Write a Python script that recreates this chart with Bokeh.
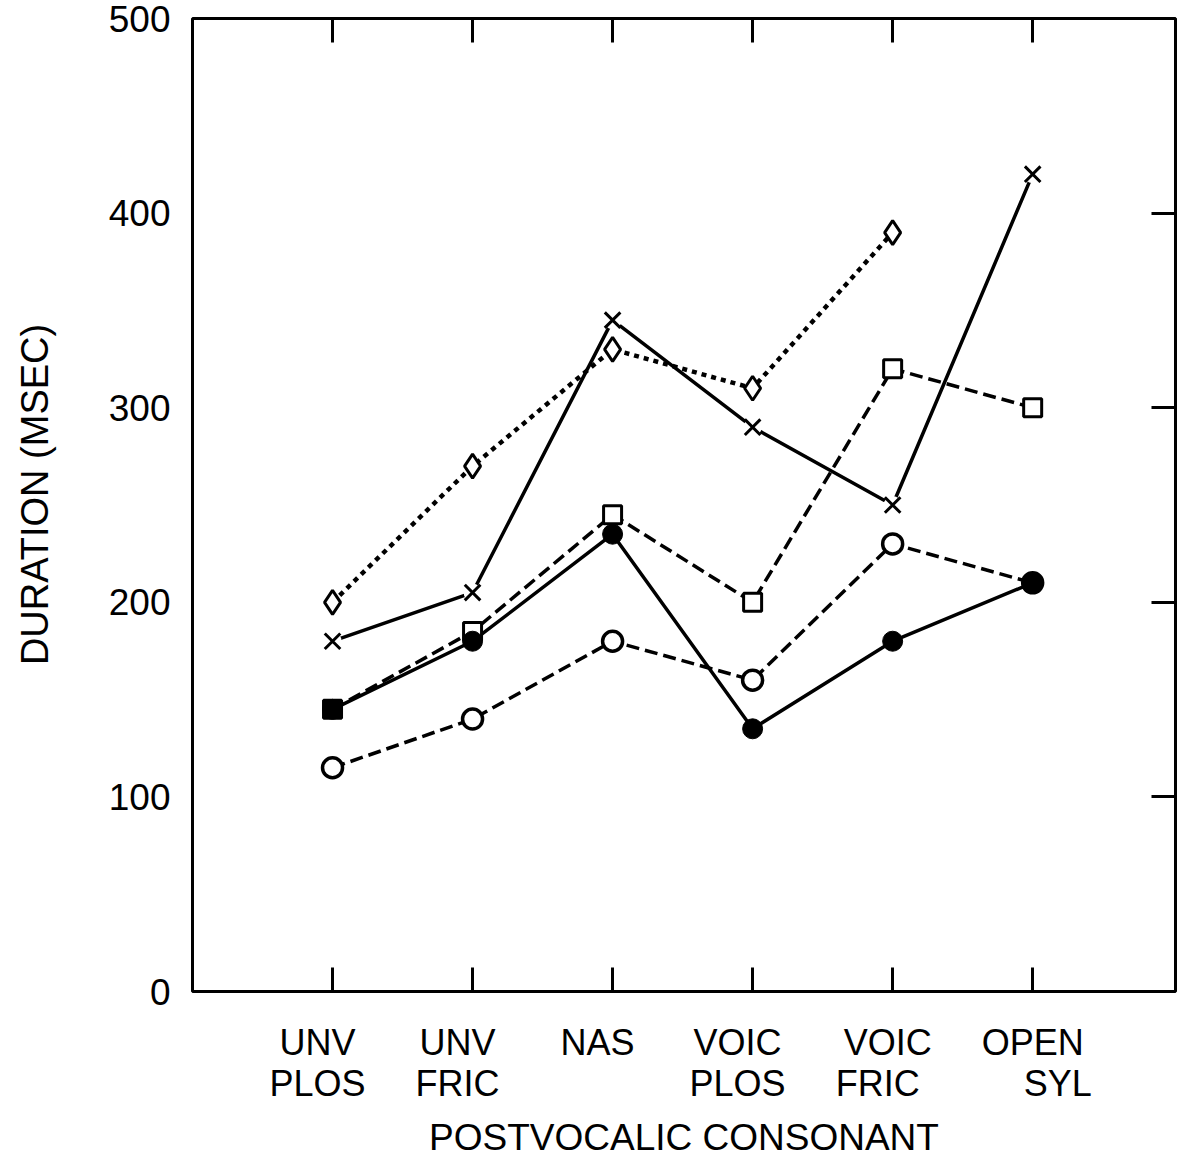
from bokeh.plotting import figure
from bokeh.models import Range1d, FixedTicker, LinearAxis
from bokeh.embed import file_html
from bokeh.resources import INLINE

# Vowel duration by following consonant type
NBSP = "\u00a0"
PAD = NBSP * 3
categories = ["UNV" + PAD + "\nPLOS" + PAD,
              "UNV" + PAD + "\nFRIC" + PAD,
              "NAS" + PAD,
              "VOIC" + PAD + "\nPLOS" + PAD,
              "VOIC" + NBSP + "\nFRIC" + PAD,
              "OPEN\n" + NBSP * 5 + "SYL"]
x_pos = [1, 2, 3, 4, 5, 6]
cross_vals = [180, 205, 345, 290, 250, 420]
diamond_vals = [200, 270, 330, 310, 390]
square_vals = [145, 185, 245, 200, 320, 300]
filled_circle_vals = [145, 180, 235, 135, 180, 210]
open_circle_vals = [115, 140, 180, 160, 230, 210]
y_ticks = [0, 100, 200, 300, 400, 500]

FONT = "'Liberation Sans', Arial, Helvetica, sans-serif"

p = figure(width=1178, height=1160,
           x_range=Range1d(0, 7.02), y_range=Range1d(0, 500),
           output_backend="svg", toolbar_location=None,
           min_border_left=192, min_border_right=3,
           min_border_top=18, min_border_bottom=167)
p.xgrid.visible = False
p.ygrid.visible = False
p.outline_line_color = "black"
p.outline_line_width = 3
p.outline_line_alpha = 1.0
p.background_fill_color = "white"
p.border_fill_color = "white"

# left axis: labels only
ya = p.yaxis[0]
ya.ticker = FixedTicker(ticks=y_ticks)
ya.major_tick_in = 0
ya.major_tick_out = 0
ya.minor_tick_line_color = None
ya.axis_line_color = None
ya.major_label_text_font = FONT
ya.major_label_text_font_size = "37px"
ya.major_label_text_color = "black"
ya.major_label_standoff = 22
ya.axis_label = NBSP * 2 + "DURATION (MSEC)"
ya.axis_label_text_font = FONT
ya.axis_label_text_font_size = "38px"
ya.axis_label_text_color = "black"
ya.axis_label_text_font_style = "normal"
ya.axis_label_standoff = 50

# bottom axis: category ticks pointing inward
xa = p.xaxis[0]
xa.ticker = FixedTicker(ticks=x_pos)
xa.major_label_overrides = {x: c for x, c in zip(x_pos, categories)}
xa.major_tick_in = 24
xa.major_tick_out = 0
xa.major_tick_line_width = 3
xa.minor_tick_line_color = None
xa.axis_line_color = None
xa.major_label_text_font = FONT
xa.major_label_text_font_size = "36px"
xa.major_label_text_line_height = 1.0
xa.major_label_text_color = "black"
xa.major_label_standoff = 30
xa.axis_label = "POSTVOCALIC CONSONANT"
xa.axis_label_text_font = FONT
xa.axis_label_text_font_size = "37px"
xa.axis_label_text_color = "black"
xa.axis_label_text_font_style = "normal"
xa.axis_label_standoff = 10

# mirrored inward ticks on top and right
top = LinearAxis(ticker=FixedTicker(ticks=x_pos), major_tick_in=24, major_tick_out=0,
                 major_tick_line_width=3, minor_tick_line_color=None,
                 axis_line_color=None, major_label_text_font_size="0px",
                 major_label_standoff=0)
right = LinearAxis(ticker=FixedTicker(ticks=y_ticks[1:-1]), major_tick_in=24, major_tick_out=0,
                   major_tick_line_width=3, minor_tick_line_color=None,
                   axis_line_color=None, major_label_text_font_size="0px",
                   major_label_standoff=0)
p.add_layout(top, "above")
p.add_layout(right, "right")

LW = 3.5
dash = "13 6"

# lines
p.line(x_pos[:len(diamond_vals)], diamond_vals, line_color="black", line_width=4.5, line_dash="5 5")
p.line(x_pos, square_vals, line_color="black", line_width=LW, line_dash=dash)
p.line(x_pos, open_circle_vals, line_color="black", line_width=LW, line_dash=dash)
p.line(x_pos, filled_circle_vals, line_color="black", line_width=LW)
p.line(x_pos, cross_vals, line_color="black", line_width=LW)

# markers
p.scatter(x_pos, cross_vals, marker="circle", size=18, fill_color="white", line_color=None)
p.scatter(x_pos, cross_vals, marker="x", size=22, line_color="black", line_width=3)
p.scatter(x_pos[:len(diamond_vals)], diamond_vals, marker="diamond", size=24,
          fill_color="white", line_color="black", line_width=3)
square_fill = ["black"] + ["white"] * (len(square_vals) - 1)
p.scatter(x_pos, square_vals, marker="square", size=18, fill_color=square_fill,
          line_color="black", line_width=3)
p.scatter(x_pos, open_circle_vals, marker="circle", size=20, fill_color="white",
          line_color="black", line_width=3.5)
p.scatter(x_pos, filled_circle_vals, marker="circle", size=20, fill_color="black",
          line_color="black", line_width=1)

open("out.html", "w").write(file_html(p, INLINE))
